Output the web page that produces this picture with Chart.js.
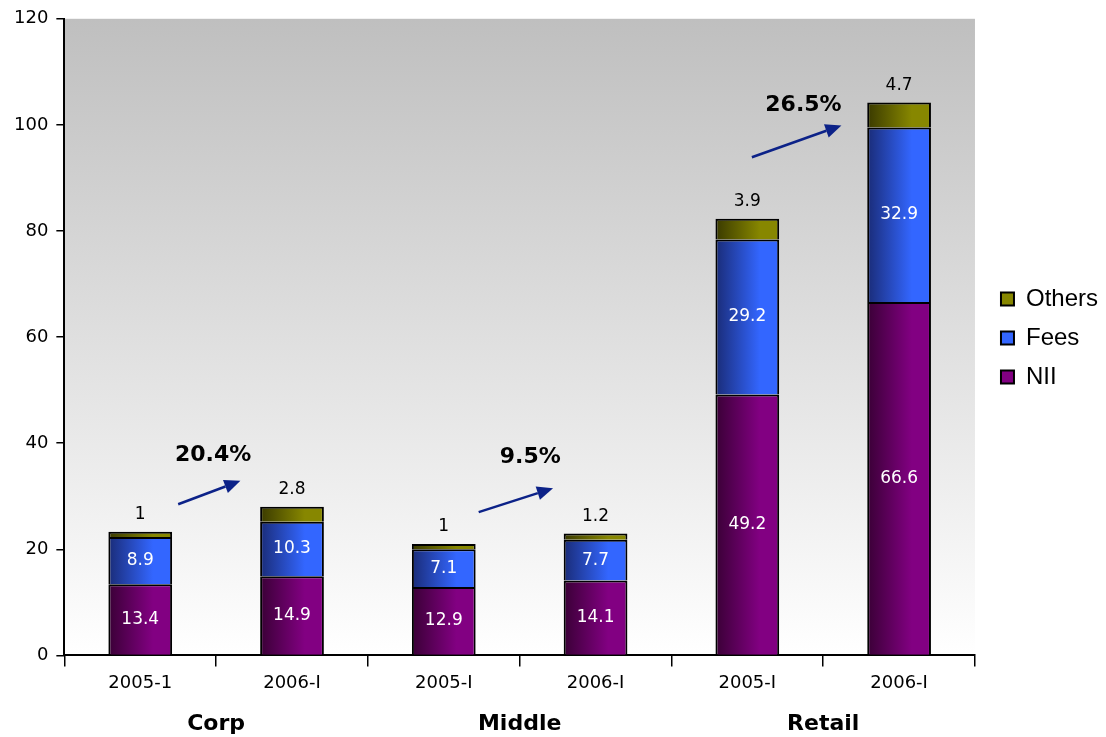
<!DOCTYPE html>
<html>
<head>
<meta charset="utf-8">
<script src="https://cdn.jsdelivr.net/npm/chart.js@4.4.1/dist/chart.umd.min.js"></script>
<style>
  body { margin: 0; background: #fff; }
  #wrap { width: 1106px; height: 737px; }
</style>
</head>
<body>
<div id="wrap"><canvas id="revChart"></canvas></div>
<script>
const categories = ['2005-1', '2006-I', '2005-I', '2006-I', '2005-I', '2006-I'];
const groups = ['Corp', 'Middle', 'Retail'];
const nii = [13.4, 14.9, 12.9, 14.1, 49.2, 66.6];
const fees = [8.9, 10.3, 7.1, 7.7, 29.2, 32.9];
const others = [1, 2.8, 1, 1.2, 3.9, 4.7];
const yTicks = [0, 20, 40, 60, 80, 100, 120];

// growth arrows, in axis units (category index, value)
const growthText = ['20.4%', '9.5%', '26.5%'];
const growthTextAt = [[0.48, 37.7], [2.57, 37.4], [4.37, 103.7]];
const arrowFrom = [[0.25, 28.5], [2.23, 27.0], [4.03, 93.9]];
const arrowTo = [[0.66, 32.9], [2.72, 31.5], [4.62, 99.9]];

const BAR_PCT = 0.42;
const FONT = '"DejaVu Sans", sans-serif';

function barFill(dark, light, mid) {
    return (ctx) => {
        const chart = ctx.chart;
        const xs = chart.scales.x;
        if (ctx.type !== 'data' || !xs || !xs.width) return mid;
        const c = xs.getPixelForValue(ctx.dataIndex);
        const w = xs.width / categories.length * BAR_PCT;
        const g = chart.ctx.createLinearGradient(c - w / 2, 0, c + w / 2, 0);
        g.addColorStop(0, dark);
        g.addColorStop(0.7, light);
        g.addColorStop(1, light);
        return g;
    };
}

const decor = {
    id: 'decor',
    afterLayout(chart) {
        // nudge legend to where the original sits
        const lg = chart.legend;
        lg.left += 11; lg.right += 11;
        lg.top -= 16; lg.bottom -= 16;
    },
    beforeDraw(chart) {
        const { ctx, chartArea: a } = chart;
        const g = ctx.createLinearGradient(0, a.top, 0, a.bottom);
        g.addColorStop(0, '#bfbfbf');
        g.addColorStop(1, '#ffffff');
        ctx.save();
        ctx.fillStyle = g;
        ctx.fillRect(a.left, a.top, a.right - a.left, a.bottom - a.top);
        ctx.restore();
    },
    afterDatasetsDraw(chart) {
        const ctx = chart.ctx;
        const xs = chart.scales.x, ys = chart.scales.y;
        ctx.save();
        ctx.textAlign = 'center';
        ctx.textBaseline = 'middle';
        ctx.font = '17px ' + FONT;

        // value labels
        chart.data.datasets.forEach((ds, di) => {
            const meta = chart.getDatasetMeta(di);
            meta.data.forEach((bar, i) => {
                const txt = String(ds.data[i]);
                if (di < 2) {
                    ctx.fillStyle = '#ffffff';
                    ctx.fillText(txt, bar.x, (bar.y + bar.base) / 2);
                } else {
                    ctx.fillStyle = '#000000';
                    ctx.fillText(txt, bar.x, bar.y - 17);
                }
            });
        });

        // growth arrows
        ctx.strokeStyle = '#0c2288';
        ctx.fillStyle = '#0c2288';
        ctx.lineWidth = 2.5;
        for (let k = 0; k < growthText.length; k++) {
            const x1 = xs.getPixelForValue(arrowFrom[k][0]), y1 = ys.getPixelForValue(arrowFrom[k][1]);
            const x2 = xs.getPixelForValue(arrowTo[k][0]), y2 = ys.getPixelForValue(arrowTo[k][1]);
            const ang = Math.atan2(y2 - y1, x2 - x1);
            const len = 16, half = 7;
            const bx = x2 - len * Math.cos(ang), by = y2 - len * Math.sin(ang);
            ctx.beginPath();
            ctx.moveTo(x1, y1);
            ctx.lineTo(bx, by);
            ctx.stroke();
            ctx.beginPath();
            ctx.moveTo(x2, y2);
            ctx.lineTo(bx + half * Math.sin(ang), by - half * Math.cos(ang));
            ctx.lineTo(bx - half * Math.sin(ang), by + half * Math.cos(ang));
            ctx.closePath();
            ctx.fill();
        }
        ctx.fillStyle = '#000';
        ctx.font = 'bold 22px ' + FONT;
        for (let k = 0; k < growthText.length; k++) {
            ctx.fillText(growthText[k], xs.getPixelForValue(growthTextAt[k][0]), ys.getPixelForValue(growthTextAt[k][1]));
        }
        ctx.restore();
    },
    afterDraw(chart) {
        const ctx = chart.ctx;
        const xs = chart.scales.x;
        ctx.save();
        ctx.fillStyle = '#000';
        ctx.font = 'bold 22px ' + FONT;
        ctx.textAlign = 'center';
        ctx.textBaseline = 'middle';
        groups.forEach((g, i) => {
            const x = (xs.getPixelForValue(2 * i) + xs.getPixelForValue(2 * i + 1)) / 2;
            ctx.fillText(g, x, xs.bottom + 24);
        });
        ctx.restore();
    }
};

new Chart(document.getElementById('revChart'), {
    type: 'bar',
    data: {
        labels: categories,
        datasets: [
            { label: 'NII', data: nii, backgroundColor: barFill('#3a0036', '#820082', '#6a006a') },
            { label: 'Fees', data: fees, backgroundColor: barFill('#1a2c78', '#3366ff', '#2a55dd') },
            { label: 'Others', data: others, backgroundColor: barFill('#3a3a00', '#878700', '#6c6c00') }
        ]
    },
    options: {
        responsive: true,
        maintainAspectRatio: false,
        animation: false,
        datasets: {
            bar: {
                barPercentage: BAR_PCT,
                categoryPercentage: 1,
                borderColor: '#000',
                borderWidth: 2,
                borderSkipped: 'start'
            }
        },
        layout: { padding: { top: 8, left: 6, right: 9, bottom: 37 } },
        plugins: {
            tooltip: { enabled: false },
            legend: {
                position: 'right',
                reverse: true,
                labels: {
                    boxWidth: 13,
                    boxHeight: 13,
                    padding: 15,
                    color: '#000',
                    font: { family: '"Liberation Sans", Arial, sans-serif', size: 24 }
                }
            }
        },
        scales: {
            x: {
                stacked: true,
                offset: true,
                grid: { display: true, drawOnChartArea: false, offset: true, tickLength: 11, color: '#000', lineWidth: 1.5 },
                border: { display: true, color: '#000', width: 2 },
                ticks: { color: '#000', font: { family: FONT, size: 18 }, padding: 6, maxRotation: 0 }
            },
            y: {
                stacked: true,
                min: yTicks[0],
                max: yTicks[yTicks.length - 1],
                afterBuildTicks: (axis) => { axis.ticks = yTicks.map(v => ({ value: v })); },
                grid: { display: true, drawOnChartArea: false, tickLength: 8, color: '#000', lineWidth: 1.5 },
                border: { display: true, color: '#000', width: 2 },
                ticks: { color: '#000', font: { family: FONT, size: 18 }, padding: 8 }
            }
        }
    },
    plugins: [decor]
});
</script>
</body>
</html>
